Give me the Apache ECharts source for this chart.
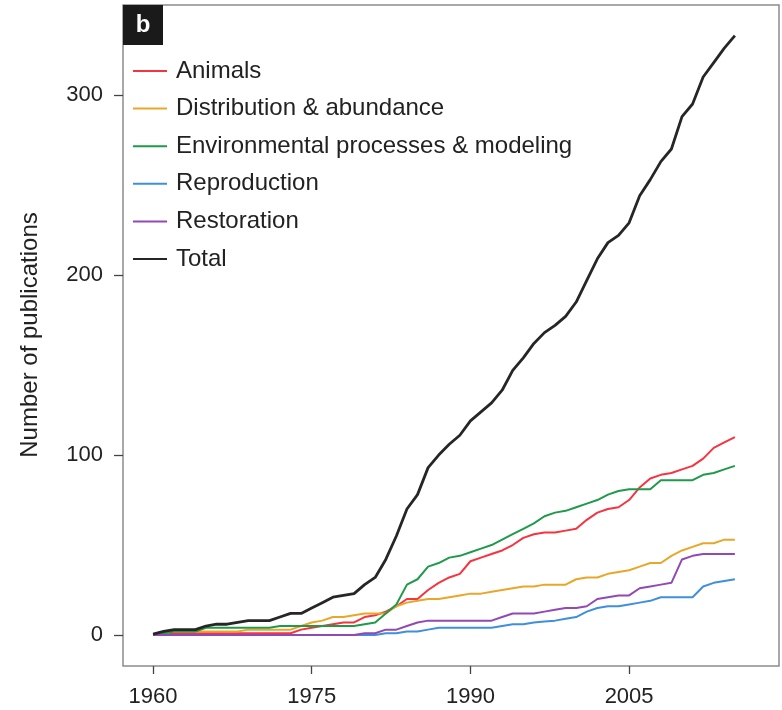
<!DOCTYPE html>
<html>
<head>
<meta charset="utf-8">
<script src="https://cdn.jsdelivr.net/npm/echarts@6.0.0/dist/echarts.min.js"></script>
<style>
html,body{margin:0;padding:0;background:#fff;}
#chart{width:782px;height:710px;}
</style>
</head>
<body>
<div id="chart"></div>
<script>
const years = [1960,1961,1962,1963,1964,1965,1966,1967,1968,1969,
  1970,1971,1972,1973,1974,1975,1976,1977,1978,1979,
  1980,1981,1982,1983,1984,1985,1986,1987,1988,1989,
  1990,1991,1992,1993,1994,1995,1996,1997,1998,1999,
  2000,2001,2002,2003,2004,2005,2006,2007,2008,2009,
  2010,2011,2012,2013,2014,2015];

const animals = [0,1,1,1,1,1,1,1,1,1,
  1,1,1,1,3,4,5,6,7,7,
  10,11,13,16,20,20,25,29,32,34,
  41,43,45,47,50,54,56,57,57,58,
  59,64,68,70,71,75,82,87,89,90,
  92,94,98,104,107,110];

const distribution = [0,1,2,2,2,2,2,2,2,3,
  3,3,3,3,5,7,8,10,10,11,
  12,12,12,16,18,19,20,20,21,22,
  23,23,24,25,26,27,27,28,28,28,
  31,32,32,34,35,36,38,40,40,44,
  47,49,51,51,53,53];

const environmental = [0,1,2,2,2,4,4,4,4,4,
  4,4,5,5,5,5,5,5,5,5,
  6,7,12,17,28,31,38,40,43,44,
  46,48,50,53,56,59,62,66,68,69,
  71,73,75,78,80,81,81,81,86,86,
  86,86,89,90,92,94];

const reproduction = [0,0,0,0,0,0,0,0,0,0,
  0,0,0,0,0,0,0,0,0,0,
  0,0,1,1,2,2,3,4,4,4,
  4,4,4,5,6,6,7,7.5,8,9,
  10,13,15,16,16,17,18,19,21,21,
  21,21,27,29,30,31];

const restoration = [0,0,0,0,0,0,0,0,0,0,
  0,0,0,0,0,0,0,0,0,0,
  1,1,3,3,5,7,8,8,8,8,
  8,8,8,10,12,12,12,13,14,15,
  15,16,20,21,22,22,26,27,28,29,
  42,44,45,45,45,45];

const total = [0.5,2,3,3,3,5,6,6,7,8,
  8,8,10,12,12,15,18,21,22,23,
  28,32,42,55,70,78,93,100,106,111,
  119,124,129,136,147,154,162,168,172,177,
  185,197,209,218,222,229,244,253,263,270,
  288,295,310,318,326,333];

const xTicks = [1960,1975,1990,2005];
const yTicks = [0,100,200,300];

const seriesDefs = [
  {name:'Animals', values: animals, color:'#f7333f', width:2},
  {name:'Distribution & abundance', values: distribution, color:'#e9a72a', width:2},
  {name:'Environmental processes & modeling', values: environmental, color:'#1f9a4b', width:2},
  {name:'Reproduction', values: reproduction, color:'#3f8fdc', width:2},
  {name:'Restoration', values: restoration, color:'#9049b5', width:2},
  {name:'Total', values: total, color:'#262626', width:2.8}
];

const chart = echarts.init(document.getElementById('chart'), null, {renderer:'canvas'});
const tickFont = 'Liberation Sans, Arial, sans-serif';

chart.setOption({
  animation:false,
  backgroundColor:'#ffffff',
  grid:{left:123, top:5, right:3, bottom:44, show:true, borderColor:'#8c8c8c', borderWidth:1.5, backgroundColor:'transparent', containLabel:false},
  xAxis:{
    type:'value', min:1957.16, max:2019.17,
    splitLine:{show:false},
    axisLine:{show:false, onZero:false},
    axisTick:{show:true, customValues:xTicks, length:8, inside:false, lineStyle:{color:'#444', width:1.3}},
    axisLabel:{show:true, customValues:xTicks, margin:20, fontSize:22, fontFamily:tickFont, color:'#222', formatter:v=>String(v)}
  },
  yAxis:{
    type:'value', min:-17.2, max:350,
    splitLine:{show:false},
    axisLine:{show:false, onZero:false},
    axisTick:{show:true, customValues:yTicks, length:9, inside:false, lineStyle:{color:'#444', width:1.3}},
    axisLabel:{show:true, customValues:yTicks, margin:20, fontSize:22, fontFamily:tickFont, color:'#222', formatter:v=>String(v)}
  },
  legend:{
    orient:'vertical', left:133, top:59, padding:0,
    itemWidth:34, itemHeight:14, itemGap:13.6,
    icon:'path://M0,6 L34,6 L34,8 L0,8 Z',
    textStyle:{fontSize:24, fontFamily:tickFont, color:'#222', padding:[0,0,0,4]},
    data: seriesDefs.map(s=>s.name),
    selectedMode:false
  },
  graphic:[
    {type:'rect', left:123, top:5, shape:{width:40, height:40}, style:{fill:'#1a1a1a'}, z:100},
    {type:'text', x:143, y:25, style:{text:'b', font:'bold 24px Liberation Sans, Arial, sans-serif', fill:'#ffffff', align:'center', verticalAlign:'middle'}, z:101},
    {type:'text', x:30, y:335, rotation:Math.PI/2, style:{text:'Number of publications', font:'24px Liberation Sans, Arial, sans-serif', fill:'#222', align:'center', verticalAlign:'middle'}}
  ],
  series: seriesDefs.map(s=>({
    name:s.name, type:'line', symbol:'none', showSymbol:false,
    itemStyle:{color:s.color},
    lineStyle:{color:s.color, width:s.width},
    data: years.map((y,i)=>[y, s.values[i]])
  }))
});
</script>
</body>
</html>
